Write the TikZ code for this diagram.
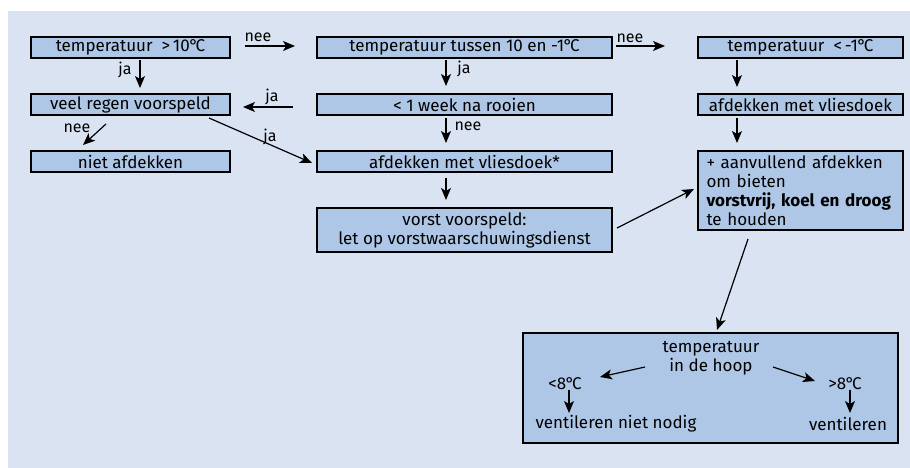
\documentclass[tikz,border=0pt]{standalone}
\usepackage{fontspec}
\setmainfont{Fira Sans}
\usetikzlibrary{arrows.meta}
\definecolor{panel}{RGB}{217,227,241}
\definecolor{boxfill}{RGB}{175,199,230}
\newcommand{\dgr}{\kern-0.5pt°\kern-2.5pt}
\begin{document}
\begin{tikzpicture}[x=1pt,y=-1pt,
  box/.style={draw=black,line width=1.3pt,fill=boxfill,inner sep=0pt,font=\fontsize{17}{19}\selectfont},
  arr/.style={line width=1.2pt,-{Stealth[length=12pt,width=10pt,inset=3pt]}},
  lbl/.style={inner sep=0pt,font=\fontsize{16}{18}\selectfont},
  txt/.style={inner sep=0pt,font=\fontsize{17}{19}\selectfont,align=center}]
\useasboundingbox (0,0) rectangle (910,468);
\fill[white] (0,0) rectangle (910,468);
\fill[panel] (8,11) rectangle (910,468);
% left column
\node[box,minimum width=199pt,minimum height=21pt] (A) at (130.5,47.5) {temperatuur \ >\,10\dgr C};
\node[box,minimum width=199pt,minimum height=21pt] (B) at (130.5,104.5) {veel regen voorspeld};
\node[box,minimum width=199pt,minimum height=21pt] (C) at (130.5,161.5) {niet afdekken};
% middle column
\node[box,minimum width=295pt,minimum height=21pt] (D) at (464.5,47.5) {temperatuur tussen 10 en -1\dgr C};
\node[box,minimum width=295pt,minimum height=21pt] (E) at (464.5,104.5) {< 1 week na rooien};
\node[box,minimum width=295pt,minimum height=21pt] (F) at (464.5,161.5) {afdekken met vliesdoek*};
\node[box,minimum width=295pt,minimum height=44pt,align=center] (G) at (464.5,230) {vorst voorspeld:\\let op vorstwaarschuwingsdienst};
% right column
\node[box,minimum width=205pt,minimum height=21pt] (H) at (800.5,47.5) {temperatuur \ <\,-1\dgr C};
\node[box,minimum width=205pt,minimum height=21pt] (I) at (800.5,104.5) {afdekken met vliesdoek};
\node[box,minimum width=205pt,minimum height=79pt,text width=188pt,align=left] (J) at (800.5,190.5) {+ aanvullend afdekken\\om bieten\\\textbf{vorstvrij, koel en droog}\\te houden};
% bottom box
\node[box,minimum width=375pt,minimum height=110pt] (K) at (710.5,388) {};
\node[txt] (kt) at (711,358.5) {temperatuur\\in de hoop};
\node[txt] (lt) at (565,384) {<8\dgr C};
\node[txt] (rt) at (845,384) {>8\dgr C};
\node[txt] (lv) at (616,424) {ventileren niet nodig};
\node[txt] (rv) at (848,424) {ventileren};
% arrows
\draw[arr] ([shift={(114.5,-1.5)}]A.center) -- ([shift={(-169.5,-1.5)}]D.center);
\node[lbl] at (258,37) {nee};
\draw[arr] ([shift={(9.5,12.5)}]A.center) -- ([shift={(9.5,-16.5)}]B.center);
\node[lbl] at (125,70) {ja};
\draw[arr] ([shift={(-171.5,2.5)}]E.center) -- ([shift={(112.5,2.5)}]B.center);
\node[lbl] at (272,97) {ja};
\draw[arr] ([shift={(-24.5,19.5)}]B.center) -- ([shift={(-47.5,-16.5)}]C.center);
\node[lbl] at (77,128) {nee};
\draw[arr] ([shift={(78.5,13.5)}]B.center) -- ([shift={(-152.5,1.5)}]F.center);
\node[lbl] at (270,137) {ja};
\draw[arr] ([shift={(-18.5,12.5)}]D.center) -- ([shift={(-18.5,-18.5)}]E.center);
\node[lbl] at (464,69) {ja};
\draw[arr] ([shift={(-18.5,13.5)}]E.center) -- ([shift={(-18.5,-18.5)}]F.center);
\node[lbl] at (468,126) {nee};
\draw[arr] ([shift={(-18.5,16.5)}]F.center) -- ([shift={(-18.5,-30)}]G.center);
\draw[arr] ([shift={(151.5,-1.5)}]D.center) -- ([shift={(-135.5,-1.5)}]H.center);
\node[lbl] at (630,38) {nee};
\draw[arr] ([shift={(-63.5,12.5)}]H.center) -- ([shift={(-63.5,-17.5)}]I.center);
\draw[arr] ([shift={(-63.5,13.5)}]I.center) -- ([shift={(-63.5,-47.5)}]J.center);
\draw[arr] ([shift={(152.5,-2)}]G.center) -- ([shift={(-106.5,-1.5)}]J.center);
\draw[arr] ([shift={(-52.5,48.5)}]J.center) -- ([shift={(6.5,-58)}]K.center);
\draw[arr] ([shift={(-66,8.5)}]kt.center) -- ([shift={(35,-7)}]lt.center);
\draw[arr] ([shift={(62,8.5)}]kt.center) -- ([shift={(-30,-3)}]rt.center);
\draw[arr] ([shift={(4,6)}]lt.center) -- ([shift={(-47,-11)}]lv.center);
\draw[arr] ([shift={(5,6)}]rt.center) -- ([shift={(2,-11)}]rv.center);
\end{tikzpicture}
\end{document}
